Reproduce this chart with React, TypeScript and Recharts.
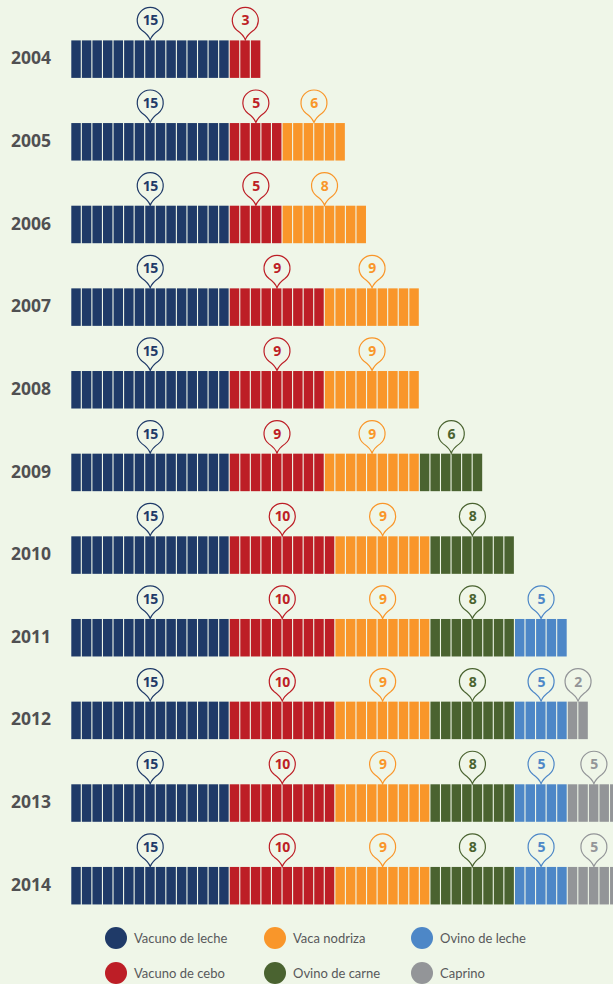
import React from "react";
import { BarChart, Bar, XAxis, YAxis, LabelList } from "recharts";

const years = ["2004", "2005", "2006", "2007", "2008", "2009", "2010", "2011", "2012", "2013", "2014"];
const vacunoLeche = [15, 15, 15, 15, 15, 15, 15, 15, 15, 15, 15];
const vacunoCebo = [3, 5, 5, 9, 9, 9, 10, 10, 10, 10, 10];
const vacaNodriza = [0, 6, 8, 9, 9, 9, 9, 9, 9, 9, 9];
const ovinoCarne = [0, 0, 0, 0, 0, 6, 8, 8, 8, 8, 8];
const ovinoLeche = [0, 0, 0, 0, 0, 0, 0, 5, 5, 5, 5];
const caprino = [0, 0, 0, 0, 0, 0, 0, 0, 2, 5, 5];

const BG = "#eff6e8";
const FONT = "Lato, 'Open Sans', sans-serif";
const BOLD_FONT = "'Open Sans', sans-serif";

const series = [
  { key: "vacunoLeche", name: "Vacuno de leche", color: "#1f3a68", values: vacunoLeche },
  { key: "vacunoCebo", name: "Vacuno de cebo", color: "#bd1e26", values: vacunoCebo },
  { key: "vacaNodriza", name: "Vaca nodriza", color: "#f9962a", values: vacaNodriza },
  { key: "ovinoCarne", name: "Ovino de carne", color: "#4a6330", values: ovinoCarne },
  { key: "ovinoLeche", name: "Ovino de leche", color: "#4d87c7", values: ovinoLeche },
  { key: "caprino", name: "Caprino", color: "#939598", values: caprino },
];

const data = years.map((year, i) => {
  const row: Record<string, string | number> = { year };
  series.forEach((s) => {
    row[s.key] = s.values[i];
  });
  return row;
});

// legend is laid out in columns, same order as the picture
const legendSlots = [
  { key: "vacunoLeche", left: 105, top: 927 },
  { key: "vacunoCebo", left: 105, top: 962 },
  { key: "vacaNodriza", left: 264, top: 927 },
  { key: "ovinoCarne", left: 264, top: 962 },
  { key: "ovinoLeche", left: 411, top: 927 },
  { key: "caprino", left: 411, top: 962 },
];

// each unit of the value is one little block
const blockShape = (dataKey: string, color: string) => (props: any) => {
  const { x, y, width, height, payload } = props;
  const count = payload[dataKey];
  if (!count) return <g />;
  const unit = width / count;
  const cells = [];
  for (let i = 0; i < count; i++) {
    cells.push(<rect key={i} x={x + i * unit + 0.3} y={y} width={unit - 1.1} height={height} fill={color} />);
  }
  return <g>{cells}</g>;
};

const pinLabel = (color: string) => (props: any) => {
  const { x, y, width, value } = props;
  if (!value) return null;
  const cx = x + width / 2;
  const tip = y - 0.5;
  const cy = tip - 19.5;
  const r = 13;
  const d = `M${cx} ${tip} C${cx - 1.5} ${tip - 4} ${cx - 4} ${tip - 6.5} ${cx - 8} ${cy + 10.2} A${r} ${r} 0 1 1 ${cx + 8} ${cy + 10.2} C${cx + 4} ${tip - 6.5} ${cx + 1.5} ${tip - 4} ${cx} ${tip} Z`;
  return (
    <g>
      <path d={d} fill={BG} stroke={color} strokeWidth={1.2} />
      <text x={cx} y={cy + 5} textAnchor="middle" fontFamily={BOLD_FONT} fontWeight={700} fontSize={14} letterSpacing={-0.6} fill={color}>
        {value}
      </text>
    </g>
  );
};

const YearTick = (props: any) => {
  const { y, payload } = props;
  return (
    <text x={51} y={y + 5.5} textAnchor="end" fontFamily={BOLD_FONT} fontWeight={700} fontSize={17.5} fill="#505052">
      {payload.value}
    </text>
  );
};

export default function App() {
  return (
    <div style={{ position: "absolute", left: 0, top: 0, width: 613, height: 984, overflow: "hidden", background: BG }}>
      <BarChart
        width={652}
        height={984}
        data={data}
        layout="vertical"
        barSize={37.5}
        margin={{ top: 17.4, right: 0, bottom: 57.4, left: 0 }}
      >
        <XAxis type="number" domain={[0, 55]} hide />
        <YAxis type="category" dataKey="year" width={71} axisLine={false} tickLine={false} tick={<YearTick />} interval={0} />
        {series.map((s) => (
          <Bar key={s.key} dataKey={s.key} stackId="a" isAnimationActive={false} shape={blockShape(s.key, s.color)}>
            <LabelList dataKey={s.key} content={pinLabel(s.color)} />
          </Bar>
        ))}
      </BarChart>
      {legendSlots.map((slot) => {
        const s = series.find((item) => item.key === slot.key)!;
        return (
          <div key={slot.key} style={{ position: "absolute", left: slot.left, top: slot.top, height: 22, display: "flex", alignItems: "center" }}>
            <span style={{ width: 22, height: 22, borderRadius: 11, background: s.color, marginRight: 7 }} />
            <span style={{ fontFamily: FONT, fontSize: 13, color: "#58595b" }}>{s.name}</span>
          </div>
        );
      })}
    </div>
  );
}
